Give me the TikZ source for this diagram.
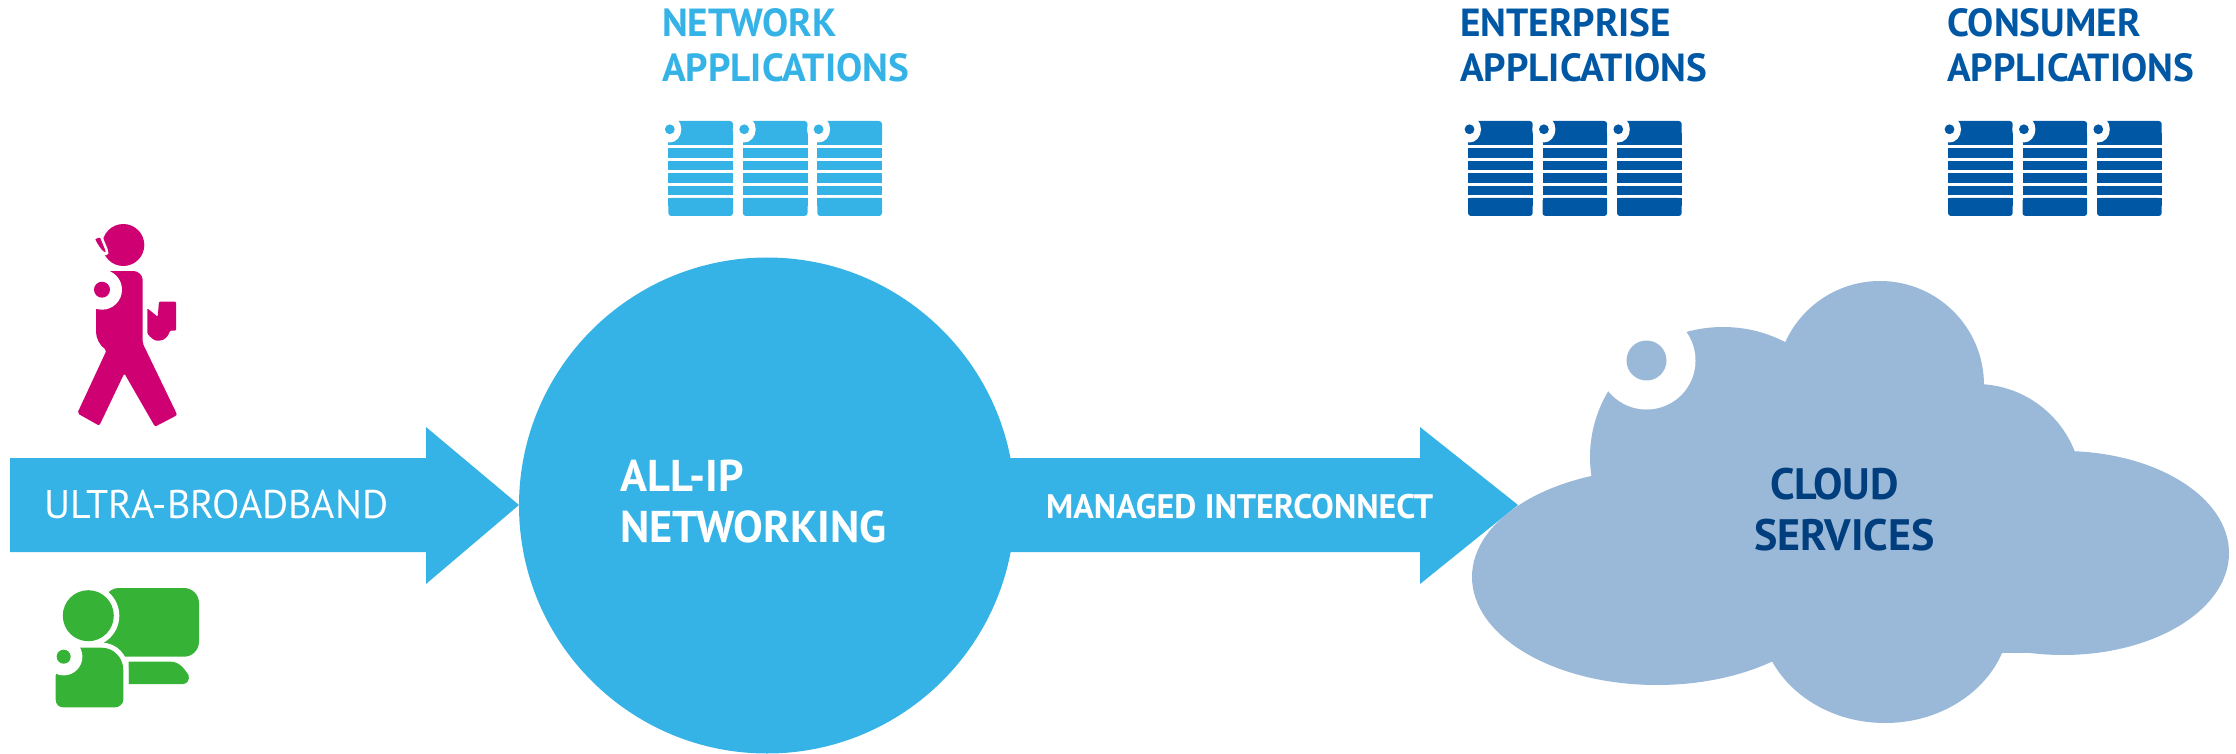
\documentclass[tikz,border=0pt]{standalone}
\usepackage{fontspec}
\setmainfont{PT Sans}
\definecolor{netblue}{HTML}{35B3E6}
\definecolor{entblue}{HTML}{0057A4}
\definecolor{cloudblue}{HTML}{9AB9D9}
\definecolor{cloudtext}{HTML}{003E7E}
\definecolor{walker}{HTML}{CF0072}
\definecolor{chatgreen}{HTML}{36B336}
\tikzset{
  head/.style={anchor=base west,font=\fontsize{39.2}{39.2}\selectfont\bfseries,inner sep=0pt},
  white label/.style={anchor=base west,text=white,inner sep=0pt},
  cloud label/.style={anchor=base west,inner sep=0pt,text=cloudtext,font=\fontsize{44}{44}\selectfont\bfseries},
  pics/serverstack/.style={code={
    \foreach \dx/\rx in {0/1.5,74.5/1.4,149/1.3}{
      \begin{scope}[xshift=\dx pt]
      \fill[#1,rounded corners=3pt] (0,0) rectangle (64.7,24);
      \fill[#1] (0,12) rectangle (64.7,24);
      \fill[#1] (0,27) rectangle (64.7,37);
      \fill[#1] (0,40) rectangle (64.7,49);
      \fill[#1] (0,52) rectangle (64.7,62);
      \fill[#1] (0,65) rectangle (64.7,74);
      \fill[#1,rounded corners=3pt] (0,77) rectangle (64.7,95);
      \fill[#1] (0,77) rectangle (64.7,85);
      \fill[white] (\rx,8.3) ellipse [x radius=11.5,y radius=13.2];
      \fill[#1] (\rx,8.3) circle (4.9);
      \end{scope}
    }
  }}
}
\begin{document}
\begin{tikzpicture}[x=1pt,y=-1pt]
\useasboundingbox (0,0) rectangle (2236,754);
% server stacks
\pic at (668.3,121) {serverstack=netblue};
\pic at (1468,121) {serverstack=entblue};
\pic at (1948,121) {serverstack=entblue};
% headings
\node[head,text=netblue] (nettitle1) at (662,37) {NETWORK};
\node[head,text=netblue] (nettitle2) at (662,82) {APPLICATIONS};
\node[head,text=entblue] (enttitle1) at (1460,37) {ENTERPRISE};
\node[head,text=entblue] (enttitle2) at (1460,82) {APPLICATIONS};
\node[head,text=entblue] (contitle1) at (1947,37) {CONSUMER};
\node[head,text=entblue] (contitle2) at (1947,82) {APPLICATIONS};
% walker
\fill[walker] (123.3,245) circle (21);
\filldraw[fill=walker,draw=white,line width=2.5pt,rounded corners=1.5pt] (93.3,238.3) -- (100.7,235.7) -- (106.7,250) -- (107.3,254.5) -- (101.7,252) -- (96.7,245) -- cycle;
\fill[walker,rounded corners=2pt] (110,271) -- (131.7,271) .. controls (138,271) and (142.7,275) .. (142.7,282) -- (142.7,343.3) -- (177.3,415) -- (155,426.7) -- (124.3,373.3) -- (99.3,425.7) -- (77.3,413.3) -- (106.7,350) .. controls (100,346) and (96,338) .. (96,330) -- (96,300) -- (90,285) -- cycle;
\fill[white] (102,289.7) circle (20);
\fill[white] (70,270) rectangle (96,309);
\fill[walker] (102,289.7) circle (8);
\fill[walker,rounded corners=1pt] (147.3,308.3) -- (157.7,316.7) -- (159,301.7) -- (176,301.7) -- (176,330.7) -- (170,330.7) .. controls (168,337) and (164,340.7) .. (158,340.7) .. controls (154,340.7) and (150,337) .. (147.3,333.3) -- cycle;
% chat icon
\fill[chatgreen,rounded corners=15pt] (104,588) rectangle (199,656.7);
\fill[chatgreen] (128.7,661.7) -- (171,661.7) .. controls (180,661.7) and (185,670) .. (188.5,675) .. controls (190,680) and (187,684) .. (183,684) -- (128.7,684) -- cycle;
\fill[white] (88.3,615.7) circle (31);
\fill[chatgreen] (88.3,615.7) circle (25.5);
\path[draw=white,line width=10pt] (55.7,647.7) -- (101.7,647.7) .. controls (114,647.7) and (123.3,658) .. (123.3,670) -- (123.3,707.3) -- (55.7,707.3);
\fill[chatgreen] (55.7,647.7) -- (101.7,647.7) .. controls (114,647.7) and (123.3,658) .. (123.3,670) -- (123.3,700) .. controls (123.3,704) and (119,707.3) .. (115,707.3) -- (63,707.3) .. controls (59,707.3) and (55.7,704) .. (55.7,700) -- cycle;
\fill[white] (63.7,656.7) circle (18.7);
\fill[white] (30,630) rectangle (55.7,675);
\fill[chatgreen] (63.7,656.7) circle (7);
% arrows and circle
\fill[netblue] (10,458) -- (426,458) -- (426,427) -- (519,505) -- (426,584) -- (426,552) -- (10,552) -- cycle;
\fill[netblue] (1000,458) -- (1420,458) -- (1420,427) -- (1518,505) -- (1420,584) -- (1420,552) -- (1000,552) -- cycle;
\node[circle,fill=netblue,minimum size=496pt,inner sep=0pt] (allip) at (767,505.5) {};
\node[white label,font=\fontsize{40}{40}\selectfont] (ub) at (44,518) {ULTRA-BROADBAND};
\node[white label,font=\fontsize{34}{34}\selectfont\bfseries] (mi) at (1046,518) {MANAGED INTERCONNECT};
\node[white label,font=\fontsize{44.5}{44.5}\selectfont\bfseries] (ip1) at (620,491) {ALL-IP};
\node[white label,font=\fontsize{44.5}{44.5}\selectfont\bfseries] (ip2) at (620,542) {NETWORKING};
% cloud
\fill[cloudblue] (1657,577) ellipse [x radius=185,y radius=108];
\fill[cloudblue] (1723,457) ellipse [x radius=133,y radius=130];
\fill[cloudblue] (1880,385) circle (104);
\fill[cloudblue] (1976,490) circle (106);
\fill[cloudblue] (2063,553) ellipse [x radius=166,y radius=102];
\fill[cloudblue] (1885,615) ellipse [x radius=125,y radius=108];
\fill[cloudblue] (1700,460) rectangle (2040,653);
\fill[white] (1646.5,360.5) circle (49);
\fill[cloudblue] (1646.5,360.5) circle (20);
\node[cloud label] (cl1) at (1770,499) {CLOUD};
\node[cloud label] (cl2) at (1754,550) {SERVICES};
\end{tikzpicture}
\end{document}
